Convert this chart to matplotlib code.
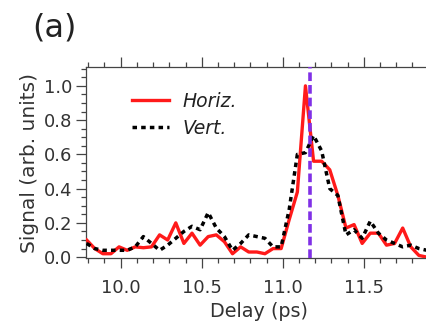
import matplotlib
matplotlib.use("Agg")
from matplotlib import pyplot as plt
from matplotlib.ticker import MultipleLocator

# delay axis (ps), sampled for both polarisations
delay = [9.79, 9.84, 9.89, 9.94, 9.99, 10.04, 10.09, 10.14, 10.19, 10.24,
         10.29, 10.34, 10.39, 10.44, 10.49, 10.54, 10.59, 10.64, 10.69, 10.74,
         10.79, 10.84, 10.89, 10.94, 10.99, 11.04, 11.09, 11.14, 11.19, 11.24,
         11.29, 11.34, 11.39, 11.44, 11.49, 11.54, 11.59, 11.64, 11.69, 11.74,
         11.79, 11.84, 11.89]

horiz = [0.10, 0.05, 0.02, 0.02, 0.06, 0.04, 0.06, 0.055, 0.06, 0.13,
         0.10, 0.20, 0.08, 0.14, 0.07, 0.12, 0.13, 0.09, 0.02, 0.06,
         0.03, 0.03, 0.02, 0.05, 0.05, 0.22, 0.38, 1.00, 0.56, 0.56,
         0.51, 0.36, 0.17, 0.19, 0.08, 0.14, 0.14, 0.07, 0.08, 0.17,
         0.06, 0.01, 0.00]

vert = [0.08, 0.05, 0.04, 0.04, 0.04, 0.04, 0.06, 0.12, 0.08, 0.04,
        0.07, 0.11, 0.15, 0.18, 0.16, 0.26, 0.17, 0.12, 0.04, 0.08,
        0.13, 0.12, 0.11, 0.06, 0.06, 0.28, 0.60, 0.61, 0.71, 0.62,
        0.40, 0.36, 0.13, 0.16, 0.11, 0.21, 0.14, 0.10, 0.08, 0.06,
        0.07, 0.05, 0.04]

marker_delay = 11.17


def main():
    fig = plt.figure(figsize=(4.27, 3.24), dpi=100)
    ax = fig.add_axes([0.2014, 0.2037, 0.81, 0.5895])

    ax.plot(delay, horiz, color="#ff1a1a", lw=2.4, label="Horiz.", zorder=3)
    ax.plot(delay, vert, color="black", lw=2.5, linestyle=(0, (1.3, 1.2)),
            label="Vert.", zorder=4)
    ax.axvline(marker_delay, color="#8030e6", lw=2.6,
               linestyle=(0, (2.4, 1.1)), zorder=5)

    ax.set_xlim(9.786, 11.92)
    ax.set_ylim(-0.005, 1.11)

    ax.xaxis.set_major_locator(MultipleLocator(0.5))
    ax.xaxis.set_minor_locator(MultipleLocator(0.1))
    ax.yaxis.set_major_locator(MultipleLocator(0.2))
    ax.yaxis.set_minor_locator(MultipleLocator(0.05))
    ax.xaxis.set_major_formatter(plt.FormatStrFormatter("%.1f"))
    ax.yaxis.set_major_formatter(plt.FormatStrFormatter("%.1f"))

    ax.tick_params(which="both", direction="out", top=True, bottom=True,
                   left=True, right=False, color="#444444", width=0.9,
                   labelsize=13, labelcolor="#333333")
    ax.tick_params(which="major", length=7)
    ax.tick_params(which="minor", length=3.5)
    ax.tick_params(axis="x", pad=8)
    ax.tick_params(axis="y", pad=3)
    for s in ax.spines.values():
        s.set_color("#444444")
        s.set_linewidth(0.9)

    ax.set_xlabel("Delay (ps)", fontsize=13.8, color="#333333", labelpad=4)
    ax.set_ylabel("Signal (arb. units)", fontsize=14.5, color="#333333",
                  labelpad=3)

    leg = ax.legend(loc="upper left", bbox_to_anchor=(0.085, 0.96),
                    frameon=False, handlelength=1.95, handletextpad=0.75,
                    labelspacing=0.45, prop={"size": 13.5, "style": "italic"})
    for t in leg.get_texts():
        t.set_color("#222222")

    fig.text(0.075, 0.915, "(a)", fontsize=23, color="#222222",
             ha="left", va="center")

    fig.savefig("out.png", dpi=100)


if __name__ == "__main__":
    main()
